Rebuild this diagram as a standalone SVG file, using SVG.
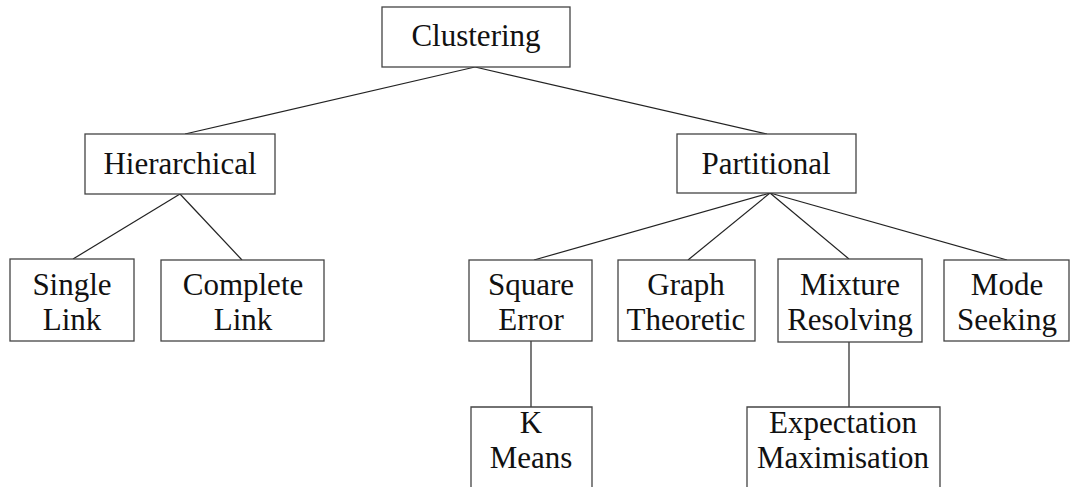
<svg xmlns="http://www.w3.org/2000/svg" width="1073" height="487" viewBox="0 0 1073 487">
<style>
.box{fill:#fff;stroke:#444;stroke-width:1.3}
.lbl{font-family:"Liberation Serif","Times New Roman",serif;font-size:31px;fill:#111;text-anchor:middle}
.edge{stroke:#222;stroke-width:1.2;fill:none}
</style>
<rect width="1073" height="487" fill="#fff"/>
<g id="connectors">
<line class="edge" x1="475" y1="67" x2="185" y2="134"/>
<line class="edge" x1="475" y1="67" x2="767" y2="134"/>
<line class="edge" x1="180" y1="194" x2="73" y2="259"/>
<line class="edge" x1="180" y1="194" x2="242" y2="260"/>
<line class="edge" x1="770" y1="193" x2="534" y2="260"/>
<line class="edge" x1="770" y1="193" x2="688" y2="260"/>
<line class="edge" x1="770" y1="193" x2="849" y2="259"/>
<line class="edge" x1="770" y1="193" x2="1007" y2="260"/>
<line class="edge" x1="531" y1="341" x2="531" y2="407"/>
<line class="edge" x1="849" y1="342" x2="849" y2="407"/>
</g>
<g id="clustering">
<rect class="box" x="382" y="7" width="188" height="60"/>
<text class="lbl" x="476" y="46">Clustering</text>
</g>
<g id="hierarchical">
<rect class="box" x="85" y="134" width="190" height="60"/>
<text class="lbl" x="180" y="174">Hierarchical</text>
</g>
<g id="partitional">
<rect class="box" x="677" y="134" width="179" height="59"/>
<text class="lbl" x="766" y="174">Partitional</text>
</g>
<g id="single-link">
<rect class="box" x="10" y="259" width="124" height="82"/>
<text class="lbl" x="72" y="295">Single</text>
<text class="lbl" x="72" y="330">Link</text>
</g>
<g id="complete-link">
<rect class="box" x="161" y="260" width="163" height="81"/>
<text class="lbl" x="243" y="295">Complete</text>
<text class="lbl" x="243" y="330">Link</text>
</g>
<g id="square-error">
<rect class="box" x="469" y="260" width="123" height="81"/>
<text class="lbl" x="531" y="295">Square</text>
<text class="lbl" x="531" y="330">Error</text>
</g>
<g id="graph-theoretic">
<rect class="box" x="618" y="260" width="137" height="81"/>
<text class="lbl" x="686" y="295">Graph</text>
<text class="lbl" x="686" y="330">Theoretic</text>
</g>
<g id="mixture-resolving">
<rect class="box" x="778" y="259" width="144" height="83"/>
<text class="lbl" x="850" y="295">Mixture</text>
<text class="lbl" x="850" y="330">Resolving</text>
</g>
<g id="mode-seeking">
<rect class="box" x="944" y="260" width="125" height="81"/>
<text class="lbl" x="1007" y="295">Mode</text>
<text class="lbl" x="1007" y="330">Seeking</text>
</g>
<g id="k-means">
<path class="box" d="M471,488 V407 H592 V488"/>
<text class="lbl" x="531" y="433">K</text>
<text class="lbl" x="531" y="468">Means</text>
</g>
<g id="expectation-maximisation">
<path class="box" d="M747,488 V407 H940 V488"/>
<text class="lbl" x="843" y="433">Expectation</text>
<text class="lbl" x="843" y="468">Maximisation</text>
</g>
</svg>
